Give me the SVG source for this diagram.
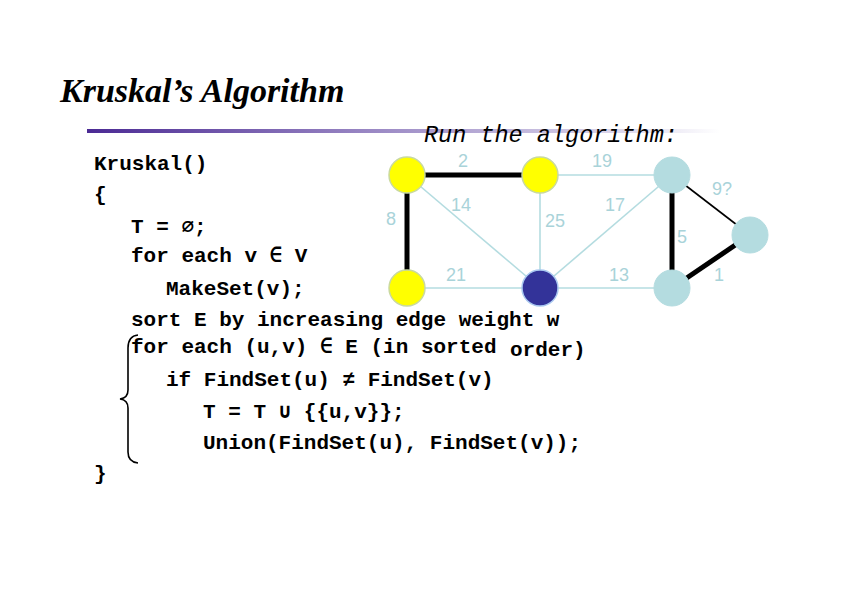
<svg xmlns="http://www.w3.org/2000/svg" width="842" height="595" viewBox="0 0 842 595">
<defs>
<linearGradient id="bar" x1="0" y1="0" x2="1" y2="0">
<stop offset="0" stop-color="#4b2a94"/>
<stop offset="0.45" stop-color="#9a88c4"/>
<stop offset="0.85" stop-color="#ddd8ec"/>
<stop offset="1" stop-color="#ffffff"/>
</linearGradient>
</defs>
<style>
.code{font-family:"Liberation Mono","Courier New",monospace;font-weight:bold;font-size:21px;fill:#000}
.lbl{font-family:"Liberation Sans",Arial,sans-serif;font-size:18px;fill:#a9d3d9}
.light{stroke:#b4dce0;stroke-width:1.6}
.thick{stroke:#000;stroke-width:5}
.thin{stroke:#000;stroke-width:1.6}
.yel{fill:#ffff00;stroke:#c9d9a0;stroke-width:1.5}
.lb{fill:#b4dce0;stroke:#b4dce0;stroke-width:1}
.db{fill:#333399;stroke:#a9c8f0;stroke-width:1.5}
</style>
<rect width="842" height="595" fill="#fff"/>
<text x="60" y="102" font-family="Liberation Serif,'Times New Roman',serif" font-style="italic" font-weight="bold" font-size="34">Kruskal’s Algorithm</text>
<rect x="87" y="129" width="633" height="4" fill="url(#bar)"/>
<text x="424" y="142" font-family="Liberation Mono,'Courier New',monospace" font-style="italic" font-size="23.5">Run the algorithm:</text>
<g id="code">
<text class="code" x="94" y="170">Kruskal()</text>
<text class="code" x="94" y="201">{</text>
<text class="code" x="131" y="233">T = ∅;</text>
<text class="code" x="131" y="262">for each v ∈ V</text>
<text class="code" x="166" y="295">MakeSet(v);</text>
<text class="code" x="131" y="326">sort E by increasing edge weight w</text>
<text class="code" x="131" y="353">for each (u,v) ∈ E (in sorted</text>
<text class="code" x="510" y="356">order)</text>
<text class="code" x="166" y="386">if FindSet(u) ≠ FindSet(v)</text>
<text class="code" x="203" y="418">T = T ∪ {{u,v}};</text>
<text class="code" x="203" y="449">Union(FindSet(u), FindSet(v));</text>
<text class="code" x="94" y="480">}</text>
<path d="M138 335 Q128 336 128 348 L128 390 Q128 398 120 399 Q128 400 128 408 L128 452 Q128 462 138 463" fill="none" stroke="#000" stroke-width="1.6"/>
</g>
<g id="connectors">
<line class="light" x1="540" y1="175" x2="672" y2="175"/>
<line class="light" x1="407" y1="175" x2="540" y2="288"/>
<line class="light" x1="540" y1="175" x2="540" y2="288"/>
<line class="light" x1="672" y1="175" x2="540" y2="288"/>
<line class="light" x1="407" y1="288" x2="540" y2="288"/>
<line class="light" x1="540" y1="288" x2="672" y2="288"/>
<line class="thick" x1="407" y1="175" x2="540" y2="175"/>
<line class="thick" x1="407" y1="175" x2="407" y2="288"/>
<line class="thick" x1="672" y1="175" x2="672" y2="288"/>
<line class="thin" x1="672" y1="175" x2="750" y2="235"/>
<line class="thick" x1="672" y1="288" x2="750" y2="235"/>
<text class="lbl" x="463" y="167" text-anchor="middle">2</text>
<text class="lbl" x="602" y="167" text-anchor="middle">19</text>
<text class="lbl" x="461" y="211" text-anchor="middle">14</text>
<text class="lbl" x="555" y="227" text-anchor="middle">25</text>
<text class="lbl" x="615" y="211" text-anchor="middle">17</text>
<text class="lbl" x="722" y="195" text-anchor="middle">9?</text>
<text class="lbl" x="391" y="225" text-anchor="middle">8</text>
<text class="lbl" x="682" y="243" text-anchor="middle">5</text>
<text class="lbl" x="456" y="281" text-anchor="middle">21</text>
<text class="lbl" x="619" y="281" text-anchor="middle">13</text>
<text class="lbl" x="719" y="281" text-anchor="middle">1</text>
</g>
<g id="nA"><circle class="yel" cx="407" cy="175" r="18"/></g>
<g id="nB"><circle class="yel" cx="540" cy="175" r="18"/></g>
<g id="nC"><circle class="lb" cx="672" cy="175" r="18"/></g>
<g id="nD"><circle class="lb" cx="750" cy="235" r="18"/></g>
<g id="nE"><circle class="lb" cx="672" cy="288" r="18"/></g>
<g id="nF"><circle class="db" cx="540" cy="288" r="18"/></g>
<g id="nG"><circle class="yel" cx="407" cy="288" r="18"/></g>
</svg>
